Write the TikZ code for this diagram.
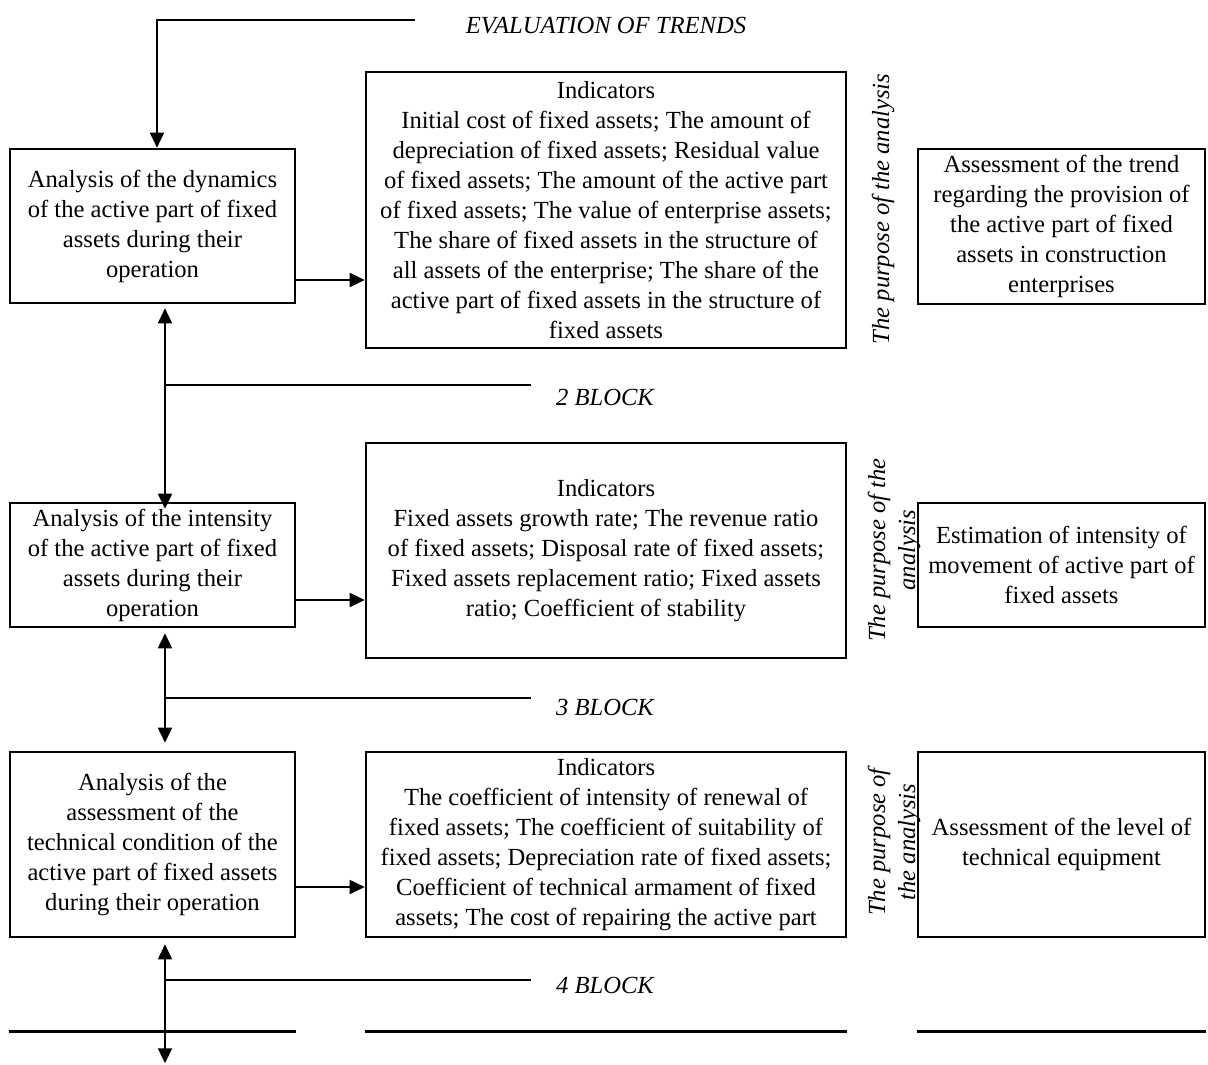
\documentclass[tikz,border=0pt]{standalone}
\usepackage{fontspec}
\setmainfont{Liberation Serif}
\usetikzlibrary{arrows.meta}

\begin{document}
\begin{tikzpicture}[x=.5pt,y=-.5pt,line width=.9pt,
  >={Triangle[length=7.5pt,width=7pt]},
  font=\fontsize{12.3}{15}\selectfont,
  box/.style={draw,line width=1.3pt,inner sep=0pt,align=center},
  lbox/.style={box,minimum width=142.5pt},
  ibox/.style={box,minimum width=240pt},
  pbox/.style={box,minimum width=143.5pt},
  blk/.style={font=\fontsize{12.3}{15}\selectfont\itshape},
  purp/.style={blk,rotate=90,align=center,inner sep=0pt}]
  \useasboundingbox (0,0) rectangle (1208,1064);

  \node (dyn) [lbox,minimum height=77pt] at (152.5,226)
    {Analysis of the dynamics\\of the active part of fixed\\assets during their\\operation};
  \node (ind1) [ibox,minimum height=138pt] at (606,210)
    {Indicators\\Initial cost of fixed assets; The amount of\\depreciation of fixed assets; Residual value\\of fixed assets; The amount of the active part\\of fixed assets; The value of enterprise assets;\\The share of fixed assets in the structure of\\all assets of the enterprise; The share of the\\active part of fixed assets in the structure of\\fixed assets};
  \node (pur1) [pbox,minimum height=77.5pt] at (1061.5,226.5)
    {Assessment of the trend\\regarding the provision of\\the active part of fixed\\assets in construction\\enterprises};
  \node (tp1) [purp] at (883,209) {The purpose of the analysis};

  \node (int) [lbox,minimum height=62pt] at (152.5,565)
    {Analysis of the intensity\\of the active part of fixed\\assets during their\\operation};
  \node (ind2) [ibox,minimum height=107.5pt] at (606,550.5)
    {Indicators\\Fixed assets growth rate; The revenue ratio\\of fixed assets; Disposal rate of fixed assets;\\Fixed assets replacement ratio; Fixed assets\\ratio; Coefficient of stability};
  \node (pur2) [pbox,minimum height=62pt] at (1061.5,565)
    {Estimation of intensity of\\movement of active part of\\fixed assets};
  \node (tp2) [purp] at (894,550) {The purpose of the\\analysis};

  \node (tech) [lbox,minimum height=92.5pt] at (152.5,844.5)
    {Analysis of the\\assessment of the\\technical condition of the\\active part of fixed assets\\during their operation};
  \node (ind3) [ibox,minimum height=92.5pt] at (606,844.5)
    {Indicators\\The coefficient of intensity of renewal of\\fixed assets; The coefficient of suitability of\\fixed assets; Depreciation rate of fixed assets;\\Coefficient of technical armament of fixed\\assets; The cost of repairing the active part};
  \node (pur3) [pbox,minimum height=92.5pt] at (1061.5,844.5)
    {Assessment of the level of\\technical equipment};
  \node (tp3) [purp] at (894,842) {The purpose of\\the analysis};

  \node (evtr) [blk] at (606,26) {EVALUATION OF TRENDS};
  \node (blk2) [blk] at (605,397) {2 BLOCK};
  \node (blk3) [blk] at (605,707) {3 BLOCK};
  \node (blk4) [blk] at (605,985) {4 BLOCK};

  \path (evtr.west) +(-43,-6) coordinate (evl);
  \draw[->] (evl) -| ([xshift=2.25pt]dyn.north);

  \path (dyn.east) +(0,54) coordinate (dyno);
  \draw[->] (dyno) -- (dyno -| ind1.west);
  \path (int.east) +(0,35) coordinate (into);
  \draw[->] (into) -- (into -| ind2.west);
  \path (tech.east) +(0,42.5) coordinate (techo);
  \draw[->] (techo) -- (techo -| ind3.west);

  \path (dyn.south) +(12.5,4) coordinate (dyns);
  \path (int.north) +(12.5,7) coordinate (intn);
  \draw[<->] (dyns) -- (intn);
  \path (blk2.west) +(-18,-12) coordinate (b2);
  \draw (b2 -| dyns) -- (b2);

  \path (int.south) +(12.5,5) coordinate (ints);
  \path (tech.north) +(12.5,-8) coordinate (techn);
  \draw[<->] (ints) -- (techn);
  \path (blk3.west) +(-18,-9) coordinate (b3);
  \draw (b3 -| ints) -- (b3);

  \path (tech.south) +(12.5,6) coordinate (techs);
  \path (techs) +(0,119) coordinate (endp);
  \draw[<->] (techs) -- (endp);
  \path (blk4.west) +(-18,-5) coordinate (b4);
  \draw (b4 -| techs) -- (b4);

  \foreach \n in {tech,ind3,pur3}
    \draw[line width=1.3pt] (\n.south west) +(0,93) -- ([yshift=-46.5pt]\n.south east);
\end{tikzpicture}
\end{document}
